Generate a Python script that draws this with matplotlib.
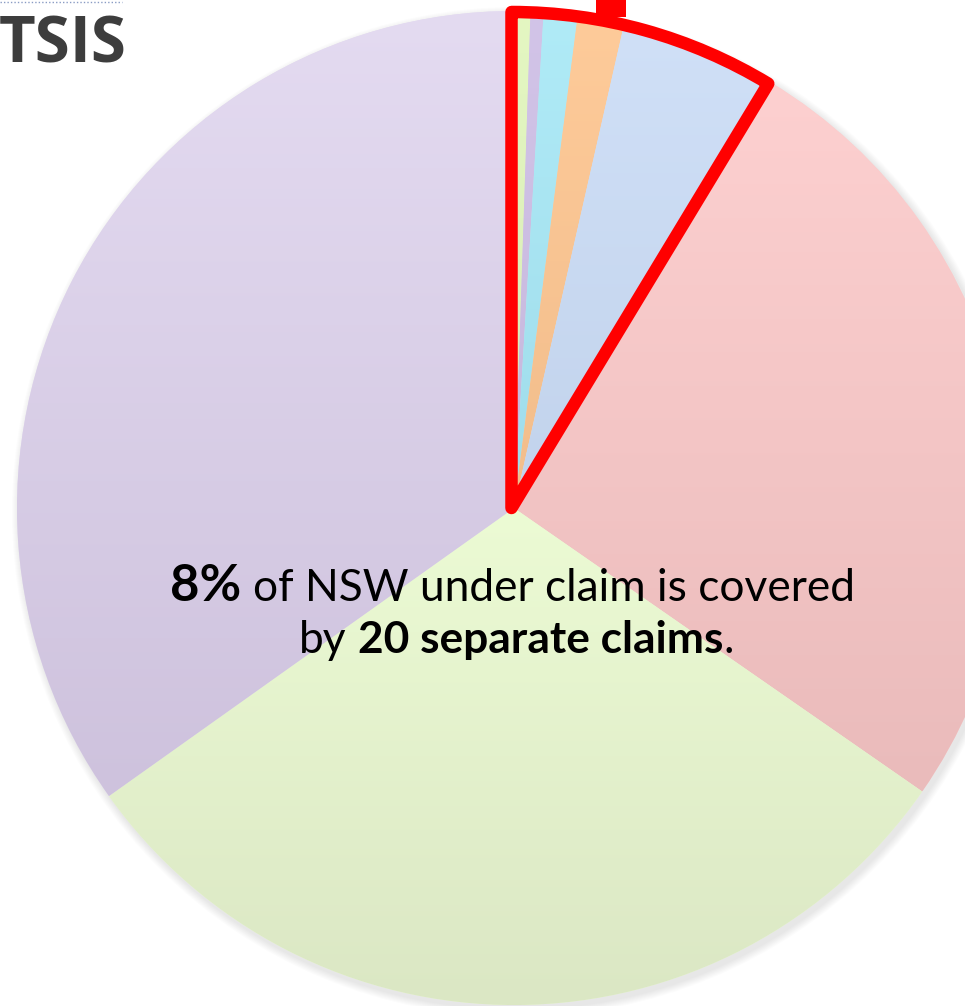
import matplotlib
matplotlib.use('Agg')
import matplotlib.pyplot as plt
import numpy as np
from matplotlib.patches import Wedge, Rectangle, Circle
from matplotlib.colors import to_rgb

# ---------------- data ----------------
slice_labels = ['Claim a', 'Claim b', 'Claim c', 'Claim d', 'Claim e',
                'Claim f', 'Claim g', 'Claim h']
slice_shares = [0.53, 0.42, 1.10, 1.51, 5.10, 26.0, 30.5, 34.84]
top_colors = ['#E4F7C2', '#D2C4E8', '#B0EBF7', '#FECB9A', '#D0E0F7',
              '#FDD0D0', '#ECFBD4', '#E4DBF1']
bottom_colors = ['#D8EBB5', '#C6B7DC', '#9FDCEB', '#F2BD8B', '#C2D3EC',
                 '#EABBBB', '#DBE7C4', '#CEC2DD']
highlight_count = 5
line1 = [('8%', 'bold', 1.15), (' of NSW under claim is covered', 'normal', 1.0)]
line2 = [('by ', 'normal', 1.0), ('20 separate claims', 'bold', 1.0), ('.', 'normal', 1.0)]
logo_text = 'TSIS'

# ---------------- figure ----------------
W, H = 965, 1006
fig = plt.figure(figsize=(W / 100, H / 100), dpi=100)
ax = fig.add_axes([0, 0, 1, 1])
cx, cy, R = 514, H - 508, 497

# soft shadow
for i in range(8):
    ax.add_patch(Circle((cx + 3, cy - 4), R + 1 + i * 1.0, color='#808080',
                        alpha=0.025, lw=0, zorder=0))

wedges, _ = ax.pie(slice_shares, colors=top_colors, startangle=90, counterclock=False,
                   radius=R, center=(cx, cy), wedgeprops=dict(linewidth=0))
for w, ct, cb in zip(wedges, top_colors, bottom_colors):
    w.set_zorder(1)
    ext = w.get_path().get_extents()
    t = np.linspace(0, 1, 256)[:, None]
    grad = (1 - t) * np.array(to_rgb(ct)) + t * np.array(to_rgb(cb))
    im = ax.imshow(grad[:, None, :], extent=(ext.x0, ext.x1, ext.y0, ext.y1),
                   origin='upper', aspect='auto', zorder=2, interpolation='bilinear')
    im.set_clip_path(w)

# highlighted group outline
hl_deg = 360 * sum(slice_shares[:highlight_count]) / sum(slice_shares)
lw_pt = 12.5 * 72 / 100
ax.add_patch(Wedge((cx - 2.5, cy), R - 1, 90 - hl_deg, 90, fill=False, ec='#FF0000',
                   lw=lw_pt, joinstyle='round', zorder=5))
ax.add_patch(Rectangle((596, H - 17), 30, 40, color='#FF0000', lw=0, zorder=5))

ax.set_xlim(0, W)
ax.set_ylim(0, H)
ax.set_aspect('equal')
ax.axis('off')

# ---------------- texts ----------------
FONT = 'Lato'
renderer = fig.canvas.get_renderer()


def measure(s, size, weight, family=FONT):
    t = ax.text(0, 0, s, fontsize=size, fontweight=weight, family=family)
    wdt = t.get_window_extent(renderer).width
    t.remove()
    return wdt


def seg_widths(segs, base):
    out = []
    for s, wt, sc in segs:
        lead = len(s) - len(s.lstrip(' '))
        trail = len(s) - len(s.rstrip(' '))
        core = s.strip(' ')
        sp = measure('x x', base * sc, wt) - measure('xx', base * sc, wt)
        out.append((lead * sp, measure(core, base * sc, wt), trail * sp, core, wt, sc))
    return out


def total(ws):
    return sum(a + b + c for a, b, c, *_ in ws)


def draw_line(segs, base, xc, yb):
    ws = seg_widths(segs, base)
    x = xc - total(ws) / 2
    for lead, wdt, trail, core, wt, sc in ws:
        x += lead
        ax.text(x, yb, core, fontsize=base * sc, fontweight=wt, family=FONT,
                va='baseline', ha='left', color='black', zorder=6)
        x += wdt + trail


base0 = 30
w1 = total(seg_widths(line1, base0))
base = base0 * 683 / w1
draw_line(line1, base, 512.5, H - 601)
draw_line(line2, base, 516.5, H - 653)

# logo fragment
lw0 = measure(logo_text, 40, 'bold', 'Open Sans')
ax.text(-1, H - 62, logo_text, fontsize=40 * 128 / lw0, fontweight='bold', family='Open Sans',
        color='#3D3D3D', va='baseline', ha='left', zorder=6)
ax.plot([0, 122], [H - 2, H - 2], ls=(0, (1, 1.5)), color='#8A9CC4', lw=1, zorder=6)

fig.savefig('out.png', dpi=100)
